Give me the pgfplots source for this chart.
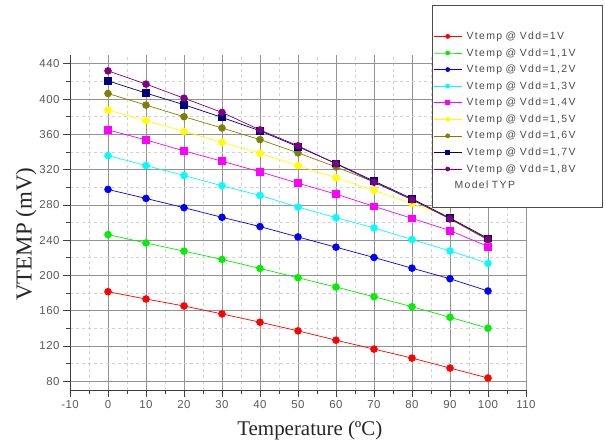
\documentclass[border=0pt]{standalone}
\usepackage{fontspec}
\setmainfont{Liberation Serif}
\newfontfamily\tickfont[LetterSpace=4]{Liberation Sans}
\newfontfamily\legfont[LetterSpace=13]{Liberation Sans}
\usepackage{pgfplots}
\pgfplotsset{compat=1.18}

\definecolor{cRed}{RGB}{255,0,0}
\definecolor{cGreen}{RGB}{0,240,0}
\definecolor{cBlue}{RGB}{0,0,255}
\definecolor{cCyan}{RGB}{0,255,255}
\definecolor{cMag}{RGB}{255,0,255}
\definecolor{cYel}{RGB}{255,255,0}
\definecolor{cOlive}{RGB}{128,128,0}
\definecolor{cNavy}{RGB}{0,0,128}
\definecolor{cPurp}{RGB}{128,0,128}

\begin{document}
\begin{tikzpicture}
\useasboundingbox (-70bp,-58bp) rectangle (535bp,390bp);
\begin{axis}[
    scale only axis,
    width=456bp, height=335bp,
    xmin=-10, xmax=110, ymin=70, ymax=450,
    xtick={-10,0,...,110}, ytick={80,120,...,440},
    minor x tick num=1, minor y tick num=1,
    axis x line*=bottom, axis y line*=left,
    axis line style={black!75, line width=0.8bp, -},
    tick align=outside,
    major tick length=7bp, minor tick length=4bp,
    tick style={black!75, line width=0.7bp},
    grid=both,
    major grid style={gray!85, line width=0.7bp},
    minor grid style={gray!35, dash pattern=on 3bp off 3bp, line width=0.6bp},
    ticklabel style={font=\tickfont\fontsize{11.5}{13}\selectfont, text=black!65},
    /pgf/number format/assume math mode=true,
    xlabel={Temperature (ºC)},
    ylabel={VTEMP (mV)},
    xlabel style={font=\fontsize{21}{24}\selectfont, text=black!85,
        at={(axis description cs:0.526,-0.122)}, anchor=center},
    ylabel style={font=\fontsize{23}{26}\selectfont, text=black!85,
        at={(axis description cs:-0.096,0.465)}, anchor=center, rotate=0},
    every axis plot/.append style={line width=0.7bp},
    mark size=3.4bp,
    legend image code/.code={%
        \draw[#1, mark size=2bp, mark repeat=2, mark phase=2]
        plot coordinates {(0bp,0bp) (14bp,0bp) (28bp,0bp)};},
    legend style={at={(axis description cs:0.794,1.149)}, anchor=north west,
        draw=black!70, fill=white, line width=0.6bp,
        font=\legfont\fontsize{10.5}{12}\selectfont, text=black!70,
        inner xsep=1bp, inner ysep=16bp, row sep=4.5bp,
        nodes={inner sep=1.5bp},
        /tikz/every odd column/.append style={column sep=3bp},
        /tikz/every even column/.append style={text width=133bp},
        cells={anchor=west}},
    legend cell align=left,
]
\addlegendimage{empty legend}
\addlegendentry{}
\addplot[cRed, mark=*, mark options={fill=cRed}] coordinates {
(0,181.5) (10,173.2) (20,165.3) (30,156.3) (40,146.9) (50,137.1) (60,126.5) (70,116.4) (80,106.2) (90,94.9) (100,83.6)};
\addlegendentry{Vtemp @ Vdd=1V}
\addplot[cGreen, mark=*, mark options={fill=cGreen}] coordinates {
(0,246.3) (10,236.8) (20,227.5) (30,218.1) (40,207.9) (50,197.3) (60,186.8) (70,175.8) (80,164.5) (90,152.5) (100,140.1)};
\addlegendentry{Vtemp @ Vdd=1,1V}
\addplot[cBlue, mark=*, mark options={fill=cBlue}] coordinates {
(0,297.5) (10,287.3) (20,276.8) (30,265.9) (40,255.4) (50,243.6) (60,232.0) (70,220.3) (80,208.2) (90,196.2) (100,182.3)};
\addlegendentry{Vtemp @ Vdd=1,2V}
\addplot[cCyan, mark=*, mark options={fill=cCyan}] coordinates {
(0,335.9) (10,324.6) (20,313.3) (30,301.7) (40,290.7) (50,277.5) (60,265.5) (70,253.8) (80,240.7) (90,227.8) (100,213.6)};
\addlegendentry{Vtemp @ Vdd=1,3V}
\addplot[cMag, mark=square*, mark options={fill=cMag}] coordinates {
(0,365.0) (10,353.7) (20,341.2) (30,329.5) (40,317.5) (50,304.6) (60,292.2) (70,278.3) (80,264.7) (90,250.8) (100,232.8)};
\addlegendentry{Vtemp @ Vdd=1,4V}
\addplot[cYel, mark=*, mark options={fill=cYel}] coordinates {
(0,387.6) (10,375.5) (20,363.4) (30,351.0) (40,338.5) (50,324.6) (60,310.7) (70,296.4) (80,281.4) (90,266.2) (100,240.0)};
\addlegendentry{Vtemp @ Vdd=1,5V}
\addplot[cOlive, mark=*, mark options={fill=cOlive}] coordinates {
(0,406.3) (10,393.2) (20,380.0) (30,367.2) (40,354.0) (50,339.0) (60,323.0) (70,306.0) (80,286.0) (90,264.0) (100,240.0)};
\addlegendentry{Vtemp @ Vdd=1,6V}
\addplot[cNavy, mark=square*, mark options={fill=cNavy}] coordinates {
(0,420.7) (10,406.8) (20,393.6) (30,379.2) (40,364.0) (50,346.0) (60,327.0) (70,307.0) (80,287.0) (90,265.0) (100,242.0)};
\addlegendentry{Vtemp @ Vdd=1,7V}
\addplot[cPurp, mark=*, mark options={fill=cPurp}] coordinates {
(0,432.0) (10,417.0) (20,401.0) (30,384.9) (40,365.0) (50,347.0) (60,326.6) (70,305.8) (80,285.9) (90,264.4) (100,241.0)};
\addlegendentry{Vtemp @ Vdd=1,8V}
\addlegendimage{empty legend}
\addlegendentry{\hspace*{-12bp}Model TYP}
\end{axis}
\end{tikzpicture}
\end{document}
